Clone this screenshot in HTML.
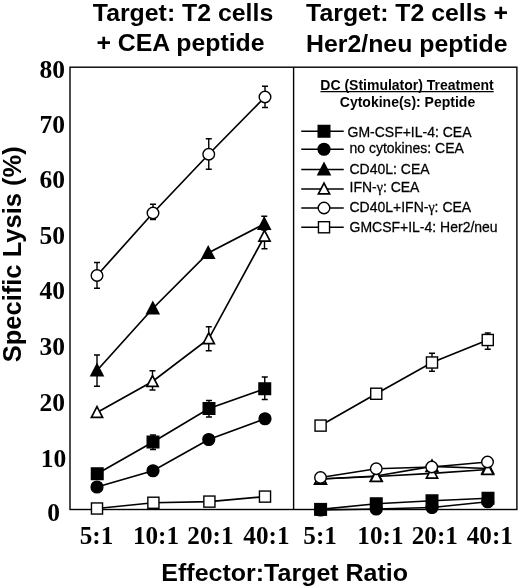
<!DOCTYPE html>
<html><head><meta charset="utf-8"><title>Specific Lysis</title>
<style>
html,body{margin:0;padding:0;background:#fff;}
svg{display:block;}
text{fill:#000;}
.ti{font-family:"Liberation Sans",Arial,sans-serif;font-weight:bold;font-size:24.85px;}
.yl{font-family:"Liberation Sans",Arial,sans-serif;font-weight:bold;font-size:25.5px;}
.ax{font-family:"Liberation Sans",Arial,sans-serif;font-weight:bold;font-size:25px;}
.tk{font-family:"Liberation Serif","Times New Roman",serif;font-weight:bold;font-size:25.2px;}
.tky{font-family:"Liberation Serif","Times New Roman",serif;font-weight:bold;font-size:25.5px;}
.gm{font-family:"Liberation Serif","Times New Roman",serif;}
.lg{font-family:"Liberation Sans",Arial,sans-serif;font-size:14px;stroke:#000;stroke-width:0.25px;}
.lh{font-family:"Liberation Sans",Arial,sans-serif;font-weight:bold;font-size:14px;}
</style></head><body>
<svg width="520" height="588" viewBox="0 0 520 588">
<rect width="520" height="588" fill="#fff"/>
<text transform="translate(183,20.8) scale(1.0,0.98)" class="ti" text-anchor="middle">Target: T2 cells</text>
<text transform="translate(180.5,51.4) scale(1.0,0.98)" class="ti" text-anchor="middle">+ CEA peptide</text>
<text transform="translate(407,21.1) scale(1.0,0.98)" class="ti" text-anchor="middle">Target: T2 cells +</text>
<text transform="translate(406.8,51.5) scale(1.0,0.98)" class="ti" text-anchor="middle">Her2/neu peptide</text>
<text transform="translate(21.2,254.3) rotate(-90)" class="yl" text-anchor="middle">Specific Lysis (%)</text>
<text transform="translate(284.7,580.6) scale(1.0,0.94)" class="ax" text-anchor="middle">Effector:Target Ratio</text>
<rect x="70" y="67.2" width="446.9" height="442.3" fill="none" stroke="#000" stroke-width="1.4"/>
<line x1="293.6" y1="67.2" x2="293.6" y2="509.5" stroke="#000" stroke-width="1.4"/>
<text transform="translate(65,77.9) scale(1.0,1.0)" class="tky" text-anchor="end">80</text>
<text transform="translate(65,132.7) scale(1.0,1.0)" class="tky" text-anchor="end">70</text>
<text transform="translate(65,188.4) scale(1.0,1.0)" class="tky" text-anchor="end">60</text>
<text transform="translate(65,244.1) scale(1.0,1.0)" class="tky" text-anchor="end">50</text>
<text transform="translate(65,299.4) scale(1.0,1.0)" class="tky" text-anchor="end">40</text>
<text transform="translate(65,354.7) scale(1.0,1.0)" class="tky" text-anchor="end">30</text>
<text transform="translate(65,410.8) scale(1.0,1.0)" class="tky" text-anchor="end">20</text>
<text transform="translate(66.2,467) scale(1.0,1.0)" class="tky" text-anchor="end">10</text>
<text transform="translate(53.5,520.5) scale(1.0,1.0)" class="tky" text-anchor="middle">0</text>
<text transform="translate(96.5,543.6) scale(1.0,0.99)" class="tk" text-anchor="middle">5:1</text>
<text transform="translate(156,543.6) scale(1.0,0.99)" class="tk" text-anchor="middle">10:1</text>
<text transform="translate(210.4,543.6) scale(1.0,0.99)" class="tk" text-anchor="middle">20:1</text>
<text transform="translate(266.4,543.6) scale(1.0,0.99)" class="tk" text-anchor="middle">40:1</text>
<text transform="translate(320.1,543.6) scale(1.0,0.99)" class="tk" text-anchor="middle">5:1</text>
<text transform="translate(380.4,543.6) scale(1.0,0.99)" class="tk" text-anchor="middle">10:1</text>
<text transform="translate(434.8,543.6) scale(1.0,0.99)" class="tk" text-anchor="middle">20:1</text>
<text transform="translate(489.8,543.6) scale(1.0,0.99)" class="tk" text-anchor="middle">40:1</text>
<text x="407" y="89.5" class="lh" text-anchor="middle">DC (Stimulator) Treatment</text>
<line x1="320.5" y1="91.7" x2="493.7" y2="91.7" stroke="#000" stroke-width="1.2"/>
<text x="407.5" y="106.7" class="lh" text-anchor="middle">Cytokine(s): Peptide</text>
<line x1="301.25" y1="131.25" x2="343.75" y2="131.25" stroke="#000" stroke-width="1.3"/>
<rect x="318.20" y="125.45" width="11.60" height="11.60" fill="#000" stroke="#000" stroke-width="1.4"/>
<text transform="translate(347.5,136.5) scale(1.0,1.08)" class="lg" text-anchor="start">GM-CSF+IL-4: CEA</text>
<line x1="301.25" y1="149.25" x2="343.75" y2="149.25" stroke="#000" stroke-width="1.3"/>
<circle cx="324" cy="149.25" r="5.90" fill="#000" stroke="#000" stroke-width="1.4"/>
<text transform="translate(349.5,153.2) scale(1.0,1.08)" class="lg" text-anchor="start">no cytokines: CEA</text>
<line x1="301.25" y1="169.5" x2="343.75" y2="169.5" stroke="#000" stroke-width="1.3"/>
<polygon points="324.00,161.38 331.30,175.38 316.70,175.38" fill="#000"/>
<text transform="translate(349.5,173.5) scale(1.0,1.08)" class="lg" text-anchor="start">CD40L: CEA</text>
<line x1="301.25" y1="189" x2="343.75" y2="189" stroke="#000" stroke-width="1.3"/>
<polygon points="324.00,183.02 329.60,193.82 318.40,193.82" fill="#fff" stroke="#000" stroke-width="1.7" stroke-linejoin="miter"/>
<text transform="translate(349.5,191.7) scale(1.0,1.08)" class="lg" text-anchor="start">IFN-<tspan class="gm">γ</tspan>: CEA</text>
<line x1="301.25" y1="208" x2="343.75" y2="208" stroke="#000" stroke-width="1.3"/>
<circle cx="324" cy="208" r="5.80" fill="#fff" stroke="#000" stroke-width="1.4"/>
<text transform="translate(349.5,211.7) scale(1.0,1.08)" class="lg" text-anchor="start">CD40L+IFN-<tspan class="gm">γ</tspan>: CEA</text>
<line x1="301.25" y1="227.25" x2="343.75" y2="227.25" stroke="#000" stroke-width="1.3"/>
<rect x="318.45" y="221.70" width="11.10" height="11.10" fill="#fff" stroke="#000" stroke-width="1.4"/>
<text transform="translate(349.5,231.9) scale(1.0,1.08)" class="lg" text-anchor="start">GMCSF+IL-4: Her2/neu</text>
<polyline points="97,508.5 153.4,502.75 209.4,501.6 265,496.6" fill="none" stroke="#000" stroke-width="1.7"/>
<rect x="91.45" y="502.95" width="11.10" height="11.10" fill="#fff" stroke="#000" stroke-width="1.4"/>
<rect x="147.85" y="497.20" width="11.10" height="11.10" fill="#fff" stroke="#000" stroke-width="1.4"/>
<rect x="203.85" y="496.05" width="11.10" height="11.10" fill="#fff" stroke="#000" stroke-width="1.4"/>
<rect x="259.45" y="491.05" width="11.10" height="11.10" fill="#fff" stroke="#000" stroke-width="1.4"/>
<polyline points="97,487 153,470.75 208.75,439.5 265,418.75" fill="none" stroke="#000" stroke-width="1.7"/>
<circle cx="97" cy="487" r="5.90" fill="#000" stroke="#000" stroke-width="1.4"/>
<circle cx="153" cy="470.75" r="5.90" fill="#000" stroke="#000" stroke-width="1.4"/>
<circle cx="208.75" cy="439.5" r="5.90" fill="#000" stroke="#000" stroke-width="1.4"/>
<circle cx="265" cy="418.75" r="5.90" fill="#000" stroke="#000" stroke-width="1.4"/>
<polyline points="97.25,473.75 153,442 209,408.5 264.75,388.75" fill="none" stroke="#000" stroke-width="1.7"/>
<path d="M153,435V449.5M150,435H156M150,449.5H156" stroke="#000" stroke-width="1.4" fill="none"/>
<path d="M209,400.5V417M206,400.5H212M206,417H212" stroke="#000" stroke-width="1.4" fill="none"/>
<path d="M264.75,377V399.5M261.75,377H267.75M261.75,399.5H267.75" stroke="#000" stroke-width="1.4" fill="none"/>
<rect x="91.45" y="467.95" width="11.60" height="11.60" fill="#000" stroke="#000" stroke-width="1.4"/>
<rect x="147.20" y="436.20" width="11.60" height="11.60" fill="#000" stroke="#000" stroke-width="1.4"/>
<rect x="203.20" y="402.70" width="11.60" height="11.60" fill="#000" stroke="#000" stroke-width="1.4"/>
<rect x="258.95" y="382.95" width="11.60" height="11.60" fill="#000" stroke="#000" stroke-width="1.4"/>
<polyline points="97,412.5 152.5,381.5 208.75,338.8 264.5,236.3" fill="none" stroke="#000" stroke-width="1.7"/>
<path d="M152.5,370.75V390M149.5,370.75H155.5M149.5,390H155.5" stroke="#000" stroke-width="1.4" fill="none"/>
<path d="M208.75,326.75V350.75M205.75,326.75H211.75M205.75,350.75H211.75" stroke="#000" stroke-width="1.4" fill="none"/>
<path d="M264.5,228V248.75M261.5,228H267.5M261.5,248.75H267.5" stroke="#000" stroke-width="1.4" fill="none"/>
<polygon points="97.00,406.52 102.60,417.32 91.40,417.32" fill="#fff" stroke="#000" stroke-width="1.7" stroke-linejoin="miter"/>
<polygon points="152.50,375.52 158.10,386.32 146.90,386.32" fill="#fff" stroke="#000" stroke-width="1.7" stroke-linejoin="miter"/>
<polygon points="208.75,332.82 214.35,343.62 203.15,343.62" fill="#fff" stroke="#000" stroke-width="1.7" stroke-linejoin="miter"/>
<polygon points="264.50,230.32 270.10,241.12 258.90,241.12" fill="#fff" stroke="#000" stroke-width="1.7" stroke-linejoin="miter"/>
<polyline points="97,370.5 152.8,308.5 208.2,253 264.25,224" fill="none" stroke="#000" stroke-width="1.7"/>
<path d="M97,355V386.25M94,355H100M94,386.25H100" stroke="#000" stroke-width="1.4" fill="none"/>
<path d="M264.25,216.3V230M261.25,216.3H267.25M261.25,230H267.25" stroke="#000" stroke-width="1.4" fill="none"/>
<polygon points="97.00,362.38 104.30,376.38 89.70,376.38" fill="#000"/>
<polygon points="152.80,300.38 160.10,314.38 145.50,314.38" fill="#000"/>
<polygon points="208.20,244.88 215.50,258.88 200.90,258.88" fill="#000"/>
<polygon points="264.25,215.88 271.55,229.88 256.95,229.88" fill="#000"/>
<polyline points="97,275.5 153,213 208.75,154.25 265,97" fill="none" stroke="#000" stroke-width="1.7"/>
<path d="M97,262.5V288.25M94,262.5H100M94,288.25H100" stroke="#000" stroke-width="1.4" fill="none"/>
<path d="M153,204.25V219.5M150,204.25H156M150,219.5H156" stroke="#000" stroke-width="1.4" fill="none"/>
<path d="M208.75,138.75V169.25M205.75,138.75H211.75M205.75,169.25H211.75" stroke="#000" stroke-width="1.4" fill="none"/>
<path d="M265,86.25V107.5M262,86.25H268M262,107.5H268" stroke="#000" stroke-width="1.4" fill="none"/>
<circle cx="97" cy="275.5" r="5.80" fill="#fff" stroke="#000" stroke-width="1.4"/>
<circle cx="153" cy="213" r="5.80" fill="#fff" stroke="#000" stroke-width="1.4"/>
<circle cx="208.75" cy="154.25" r="5.80" fill="#fff" stroke="#000" stroke-width="1.4"/>
<circle cx="265" cy="97" r="5.80" fill="#fff" stroke="#000" stroke-width="1.4"/>
<polyline points="320.5,510 376.25,509 432,507.5 487.75,501.75" fill="none" stroke="#000" stroke-width="1.7"/>
<circle cx="320.5" cy="510" r="5.90" fill="#000" stroke="#000" stroke-width="1.4"/>
<circle cx="376.25" cy="509" r="5.90" fill="#000" stroke="#000" stroke-width="1.4"/>
<circle cx="432" cy="507.5" r="5.90" fill="#000" stroke="#000" stroke-width="1.4"/>
<circle cx="487.75" cy="501.75" r="5.90" fill="#000" stroke="#000" stroke-width="1.4"/>
<polyline points="320.6,509.4 376.25,503.75 432,500.75 488,498.25" fill="none" stroke="#000" stroke-width="1.7"/>
<rect x="314.80" y="503.60" width="11.60" height="11.60" fill="#000" stroke="#000" stroke-width="1.4"/>
<rect x="370.45" y="497.95" width="11.60" height="11.60" fill="#000" stroke="#000" stroke-width="1.4"/>
<rect x="426.20" y="494.95" width="11.60" height="11.60" fill="#000" stroke="#000" stroke-width="1.4"/>
<rect x="482.20" y="492.45" width="11.60" height="11.60" fill="#000" stroke="#000" stroke-width="1.4"/>
<polyline points="320.5,479 376.25,476 432,466.3 487.75,468.5" fill="none" stroke="#000" stroke-width="1.7"/>
<polygon points="320.50,470.88 327.80,484.88 313.20,484.88" fill="#000"/>
<polygon points="376.25,467.88 383.55,481.88 368.95,481.88" fill="#000"/>
<polygon points="432.00,458.18 439.30,472.18 424.70,472.18" fill="#000"/>
<polygon points="487.75,460.38 495.05,474.38 480.45,474.38" fill="#000"/>
<polyline points="320.5,479 376.25,476.5 432,473.3 487.75,469.5" fill="none" stroke="#000" stroke-width="1.7"/>
<polygon points="320.50,473.02 326.10,483.82 314.90,483.82" fill="#fff" stroke="#000" stroke-width="1.7" stroke-linejoin="miter"/>
<polygon points="376.25,470.52 381.85,481.32 370.65,481.32" fill="#fff" stroke="#000" stroke-width="1.7" stroke-linejoin="miter"/>
<polygon points="432.00,467.32 437.60,478.12 426.40,478.12" fill="#fff" stroke="#000" stroke-width="1.7" stroke-linejoin="miter"/>
<polygon points="487.75,463.52 493.35,474.32 482.15,474.32" fill="#fff" stroke="#000" stroke-width="1.7" stroke-linejoin="miter"/>
<polyline points="320.5,477.5 376.25,468.75 431.75,467 487.5,462" fill="none" stroke="#000" stroke-width="1.7"/>
<circle cx="320.5" cy="477.5" r="5.80" fill="#fff" stroke="#000" stroke-width="1.4"/>
<circle cx="376.25" cy="468.75" r="5.80" fill="#fff" stroke="#000" stroke-width="1.4"/>
<circle cx="431.75" cy="467" r="5.80" fill="#fff" stroke="#000" stroke-width="1.4"/>
<circle cx="487.5" cy="462" r="5.80" fill="#fff" stroke="#000" stroke-width="1.4"/>
<polyline points="320.6,425.6 376.25,393.75 432,362.5 487.75,340" fill="none" stroke="#000" stroke-width="1.7"/>
<path d="M432,353.25V371.25M429,353.25H435M429,371.25H435" stroke="#000" stroke-width="1.4" fill="none"/>
<path d="M487.75,333V349.25M484.75,333H490.75M484.75,349.25H490.75" stroke="#000" stroke-width="1.4" fill="none"/>
<rect x="315.05" y="420.05" width="11.10" height="11.10" fill="#fff" stroke="#000" stroke-width="1.4"/>
<rect x="370.70" y="388.20" width="11.10" height="11.10" fill="#fff" stroke="#000" stroke-width="1.4"/>
<rect x="426.45" y="356.95" width="11.10" height="11.10" fill="#fff" stroke="#000" stroke-width="1.4"/>
<rect x="482.20" y="334.45" width="11.10" height="11.10" fill="#fff" stroke="#000" stroke-width="1.4"/>
</svg>
</body></html>
